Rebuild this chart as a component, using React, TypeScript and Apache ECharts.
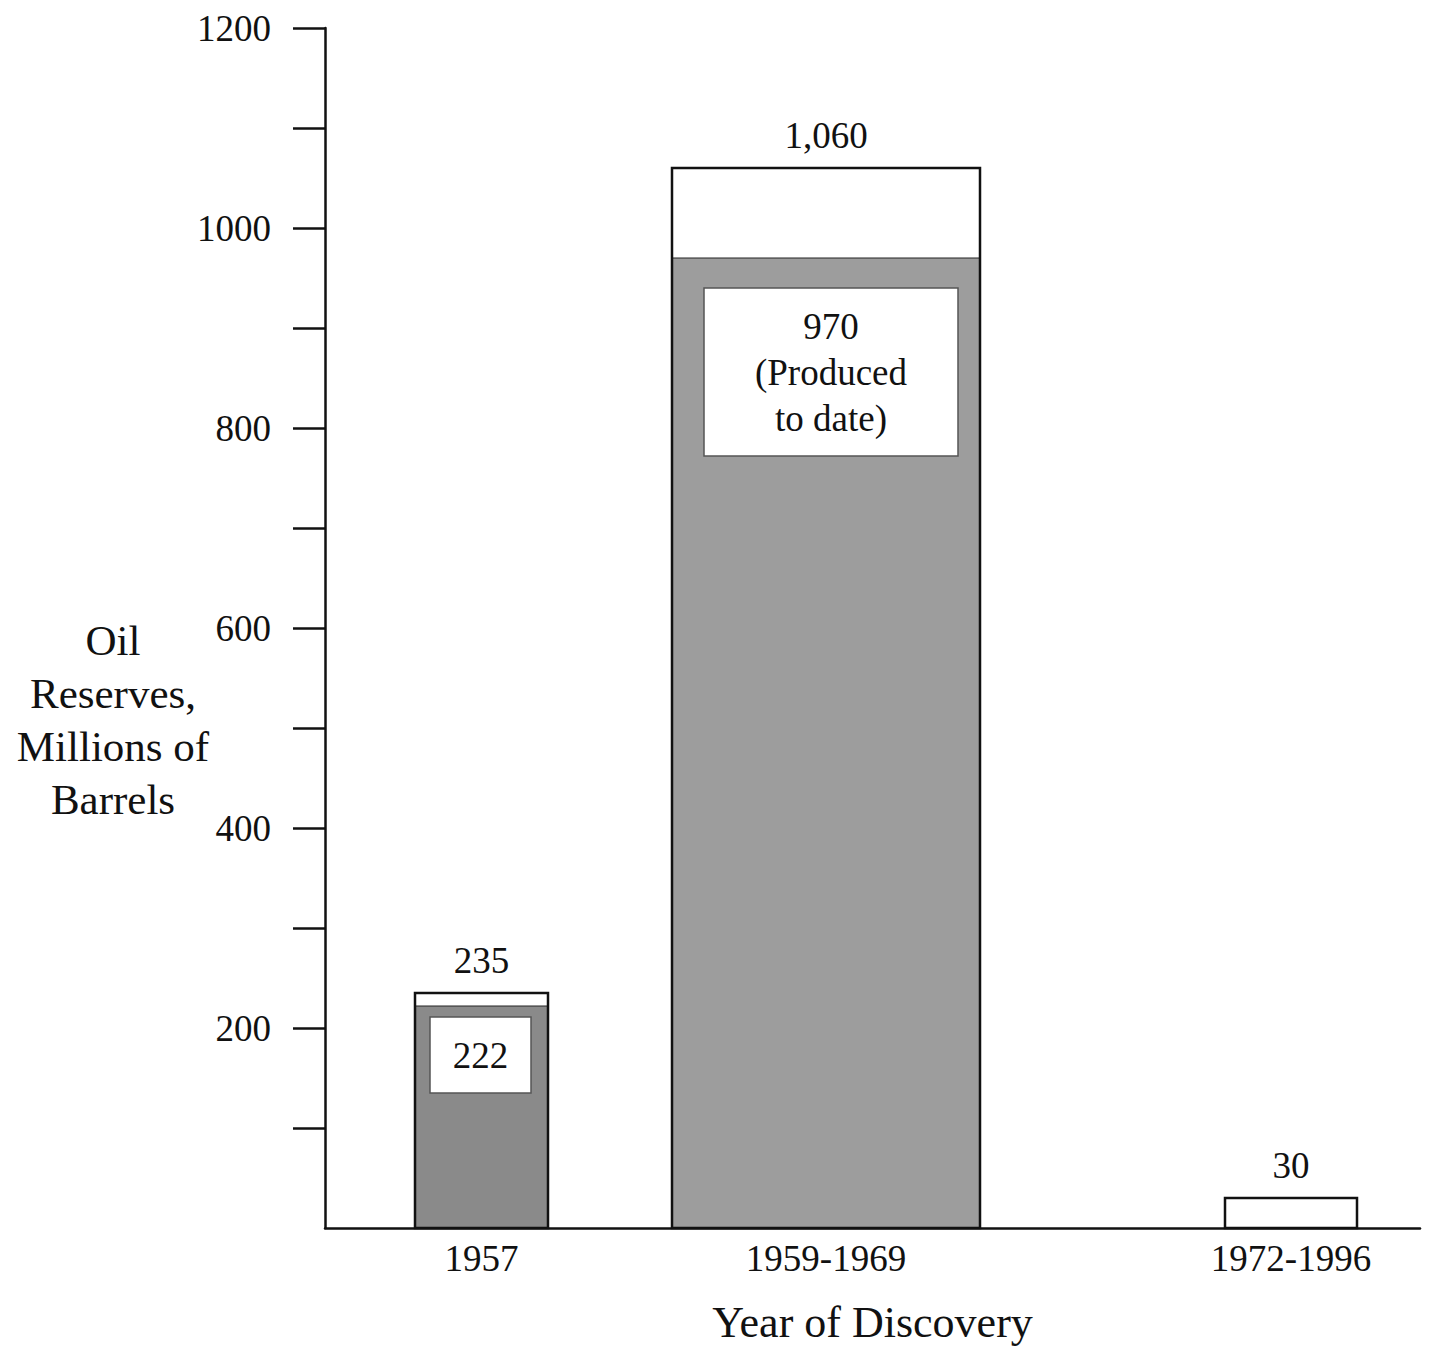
import React, { useEffect, useRef } from "react";
import * as echarts from "echarts";

// ---- data ----
const CATEGORIES = ["1957", "1959-1969", "1972-1996"];
const TOTAL_RESERVES = [235, 1060, 30];
const PRODUCED_TO_DATE: (number | null)[] = [222, 970, null];
const TOTAL_LABELS = ["235", "1,060", "30"];
const PRODUCED_LABELS: (string | null)[] = ["222", "970\n(Produced\nto date)", null];
const Y_LABEL_VALUES = [200, 400, 600, 800, 1000, 1200];
const Y_TICK_VALUES = [100, 200, 300, 400, 500, 600, 700, 800, 900, 1000, 1100, 1200];

// ---- layout (x-axis units) ----
const BAR_SPANS = [
  [90, 223],
  [347, 655],
  [900, 1032],
];
const LABEL_BOX = [
  { insetL: 15, insetR: 17, top: 11, height: 76 },
  { insetL: 32, insetR: 22, top: 30, height: 168 },
];
const FILLS = ["#8a8a8a", "#9d9d9d"];
const FONT = "Liberation Serif";

export default function App() {
  const ref = useRef<HTMLDivElement>(null);

  useEffect(() => {
    document.body.style.margin = "0";
    const chart = echarts.init(ref.current!, null, { renderer: "svg" });
    const data = CATEGORIES.map((c, i) => [i, TOTAL_RESERVES[i], PRODUCED_TO_DATE[i] ?? 0]);

    chart.setOption({
      animation: false,
      backgroundColor: "#ffffff",
      grid: { left: 325, top: 28, width: 1095, height: 1200, outerBoundsMode: "none", containLabel: false },
      xAxis: {
        type: "value",
        min: 0,
        max: 1095,
        name: "Year of Discovery",
        nameLocation: "middle",
        nameGap: 72,
        nameTextStyle: { fontFamily: FONT, fontSize: 44, color: "#111" },
        axisLine: { show: true, lineStyle: { color: "#111", width: 2.5 } },
        axisTick: { show: false },
        axisLabel: { show: false },
        splitLine: { show: false },
      },
      yAxis: {
        type: "value",
        min: 0,
        max: 1200,
        interval: 100,
        axisLine: { show: true, lineStyle: { color: "#111", width: 2.5 } },
        axisTick: {
          show: true,
          length: 32,
          customValues: Y_TICK_VALUES,
          lineStyle: { color: "#111", width: 2.5 },
        },
        axisLabel: {
          customValues: Y_LABEL_VALUES,
          formatter: (v: number) => String(v),
          margin: 54,
          fontFamily: FONT,
          fontSize: 37,
          color: "#111",
        },
        splitLine: { show: false },
      },
      graphic: [
        {
          type: "text",
          x: 113,
          y: 720,
          style: {
            text: "Oil\nReserves,\nMillions of\nBarrels",
            align: "center",
            verticalAlign: "middle",
            fontFamily: FONT,
            fontSize: 43,
            lineHeight: 53,
            fill: "#111",
          },
        },
      ],
      series: [
        {
          type: "custom",
          data,
          renderItem: (params: any, api: any) => {
            const i = api.value(0);
            const total = api.value(1);
            const produced = PRODUCED_TO_DATE[i];
            const [x0v, x1v] = BAR_SPANS[i];
            const bl = api.coord([x0v, 0]);
            const tr = api.coord([x1v, total]);
            const x0 = bl[0];
            const x1 = tr[0];
            const yBase = bl[1];
            const yTop = tr[1];
            const cx = (x0 + x1) / 2;
            const children: any[] = [];
            children.push({
              type: "rect",
              shape: { x: x0, y: yTop, width: x1 - x0, height: yBase - yTop },
              style: { fill: "#ffffff", stroke: null },
            });
            if (produced != null) {
              const pTop = api.coord([x0v, produced])[1];
              children.push({
                type: "rect",
                shape: { x: x0, y: pTop, width: x1 - x0, height: yBase - pTop },
                style: { fill: FILLS[i], stroke: "#222", lineWidth: 1 },
              });
              const lb = LABEL_BOX[i];
              const bx = x0 + lb.insetL;
              const bw = x1 - x0 - lb.insetL - lb.insetR;
              const by = pTop + lb.top;
              children.push({
                type: "rect",
                shape: { x: bx, y: by, width: bw, height: lb.height },
                style: { fill: "#ffffff", stroke: "#555", lineWidth: 1.5 },
              });
              children.push({
                type: "text",
                style: {
                  text: PRODUCED_LABELS[i],
                  x: bx + bw / 2,
                  y: by + lb.height / 2,
                  align: "center",
                  verticalAlign: "middle",
                  fontFamily: FONT,
                  fontSize: 37,
                  lineHeight: 46,
                  fill: "#111",
                },
              });
            }
            children.push({
              type: "rect",
              shape: { x: x0, y: yTop, width: x1 - x0, height: yBase - yTop },
              style: { fill: "none", stroke: "#111", lineWidth: 2.5 },
            });
            children.push({
              type: "text",
              style: {
                text: TOTAL_LABELS[i],
                x: cx,
                y: yTop - 14,
                align: "center",
                verticalAlign: "bottom",
                fontFamily: FONT,
                fontSize: 37,
                fill: "#111",
              },
            });
            children.push({
              type: "text",
              style: {
                text: CATEGORIES[i],
                x: cx,
                y: yBase + 12,
                align: "center",
                verticalAlign: "top",
                fontFamily: FONT,
                fontSize: 37,
                fill: "#111",
              },
            });
            return { type: "group", children };
          },
        },
      ],
    });

    return () => chart.dispose();
  }, []);

  return <div ref={ref} style={{ width: 1429, height: 1355 }} />;
}
